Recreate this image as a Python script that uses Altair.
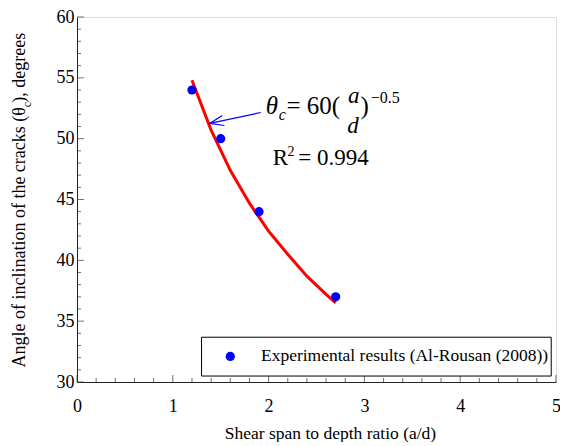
import altair as alt
import pandas as pd

# ---- data ----
a_d = [1.2, 1.5, 1.9, 2.7]
theta = [54, 50, 44, 37]
legend_label = "Experimental results (Al-Rousan (2008))"

fit_x = [1.2, 1.4, 1.6, 1.8, 2.0, 2.2, 2.4, 2.6, 2.7]
fit_y = [54.8, 50.7, 47.4, 44.7, 42.4, 40.5, 38.7, 37.2, 36.5]

x_major = [0, 1, 2, 3, 4, 5]
x_minor = [0.2, 0.4, 0.6, 0.8, 1.2, 1.4, 1.6, 1.8, 2.2, 2.4, 2.6, 2.8,
           3.2, 3.4, 3.6, 3.8, 4.2, 4.4, 4.6, 4.8]
y_major = [30, 35, 40, 45, 50, 55, 60]
y_minor = [31, 32, 33, 34, 36, 37, 38, 39, 41, 42, 43, 44, 46, 47, 48, 49,
           51, 52, 53, 54, 56, 57, 58, 59]

# annotation (equation) pieces, anchored in data units
eq_it_text = ["θ", "c", "a", "d"]
eq_it_x = [1.971, 2.105, 2.83, 2.82]
eq_it_y = [51.99, 51.50, 52.97, 50.44]
eq_it_size = [25, 16, 23, 23]

eq_txt = ["= 60(", ")", "−0.5", "R", "2", "= 0.994"]
eq_x = [2.187, 2.96, 3.065, 2.043, 2.197, 2.310]
eq_y = [51.99, 51.99, 52.97, 47.82, 48.56, 47.82]
eq_size = [25, 25, 16, 23, 14, 23]

arrow_x = [1.918, 1.386]
arrow_y = [52.15, 51.25]
head_x = [1.516, 1.386, 1.539]
head_y = [51.90, 51.25, 51.08]

# legend box (data units)
leg_box = {"x": 1.30, "x2": 4.95, "y": 33.68, "y2": 30.49}
leg_sym = {"x": 1.60, "y": 32.1}
leg_txt = {"x": 1.92, "y": 32.1}

# rotated y title pieces
yt_text = ["Angle of inclination of the cracks (θ", "c", "\u00a0), degrees"]
yt_x = [-0.545, -0.485, -0.545]
yt_y = [52.6, 52.8, 52.95]

FONT = "Liberation Serif"

xs = alt.Scale(domain=[0, 5], nice=False, zero=False)
ys = alt.Scale(domain=[30, 60], nice=False, zero=False)
xaxis = alt.Axis(title="Shear span to depth ratio (a/d)", values=x_major,
                 ticks=False, grid=False, labelPadding=15,
                 titleX=253, titleY=56, titleBaseline="alphabetic",
                 domainColor="#222222", labelFont=FONT, labelFontSize=18,
                 labelColor="black", titleFont=FONT, titleFontSize=17.5,
                 titleFontWeight="normal", titleColor="black", labelFlush=False)
yaxis = alt.Axis(title=None, values=y_major, ticks=False, grid=False,
                 labelPadding=3, domainColor="#222222", labelFont=FONT,
                 labelFontSize=18, labelColor="black")


def X(f="x"):
    return alt.X(f"{f}:Q", scale=xs, axis=xaxis)


def Y(f="y"):
    return alt.Y(f"{f}:Q", scale=ys, axis=yaxis)


pts = pd.DataFrame({"x": a_d, "y": theta})
fit = pd.DataFrame({"x": fit_x, "y": fit_y})

fit_layer = alt.Chart(fit).mark_line(color="#ff0000", strokeWidth=3).encode(x=X(), y=Y())
pt_layer = alt.Chart(pts).mark_circle(size=85, opacity=1, color="#0000ff").encode(x=X(), y=Y())

legend_layers = [
    alt.Chart(pd.DataFrame([leg_box])).mark_rect(fill="white", stroke="black", strokeWidth=1).encode(
        x=X(), x2="x2:Q", y=Y(), y2="y2:Q"),
    alt.Chart(pd.DataFrame([leg_sym])).mark_circle(size=85, opacity=1, color="#0000ff").encode(x=X(), y=Y()),
    alt.Chart(pd.DataFrame([{**leg_txt, "t": legend_label}])).mark_text(
        font=FONT, fontSize=17.5, align="left", baseline="middle", color="black").encode(
        x=X(), y=Y(), text="t:N"),
]

xt_major = pd.DataFrame({"x": x_major, "y": [30] * len(x_major)})
xt_minor = pd.DataFrame({"x": x_minor, "y": [30] * len(x_minor)})
yt_major = pd.DataFrame({"x": [0] * len(y_major), "y": y_major})
yt_minor = pd.DataFrame({"x": [0] * len(y_minor), "y": y_minor})

tick_col = "#333333"
ticks = [
    alt.Chart(xt_major).mark_tick(orient="vertical", size=7, thickness=1, yOffset=-3.5, color=tick_col).encode(x=X(), y=Y()),
    alt.Chart(xt_minor).mark_tick(orient="vertical", size=4, thickness=1, yOffset=-2, color=tick_col).encode(x=X(), y=Y()),
    alt.Chart(yt_major).mark_tick(orient="horizontal", size=7, thickness=1, xOffset=3.5, color=tick_col).encode(x=X(), y=Y()),
    alt.Chart(yt_minor).mark_tick(orient="horizontal", size=4, thickness=1, xOffset=2, color=tick_col).encode(x=X(), y=Y()),
]

eq_it = pd.DataFrame({"x": eq_it_x, "y": eq_it_y, "t": eq_it_text, "s": eq_it_size})
eq_n = pd.DataFrame({"x": eq_x, "y": eq_y, "t": eq_txt, "s": eq_size})
eq_layers = [
    alt.Chart(eq_it).mark_text(font=FONT, fontStyle="italic", align="left", baseline="alphabetic",
                               color="black").encode(x=X(), y=Y(), text="t:N",
                                                     size=alt.Size("s:Q", scale=None, legend=None)),
    alt.Chart(eq_n).mark_text(font=FONT, align="left", baseline="alphabetic",
                              color="black").encode(x=X(), y=Y(), text="t:N",
                                                    size=alt.Size("s:Q", scale=None, legend=None)),
]

arrow = pd.DataFrame({"x": arrow_x, "y": arrow_y})
head = pd.DataFrame({"x": head_x, "y": head_y, "o": [0, 1, 2]})
arrow_layers = [
    alt.Chart(arrow).mark_line(color="#0000ff", strokeWidth=1.2).encode(x=X(), y=Y()),
    alt.Chart(head).mark_line(color="#0000ff", strokeWidth=1.2).encode(x=X(), y=Y(), order="o:Q"),
]

ytd = pd.DataFrame({"x": yt_x, "y": yt_y, "t": yt_text})
ytitle = [
    alt.Chart(ytd.iloc[[0]]).mark_text(font=FONT, fontSize=18, angle=270, align="right",
                                        baseline="alphabetic", color="black").encode(x=X(), y=Y(), text="t:N"),
    alt.Chart(ytd.iloc[[1]]).mark_text(font=FONT, fontSize=12, angle=270, align="center",
                                        baseline="alphabetic", color="black").encode(x=X(), y=Y(), text="t:N"),
    alt.Chart(ytd.iloc[[2]]).mark_text(font=FONT, fontSize=18, angle=270, align="left",
                                        baseline="alphabetic", color="black").encode(x=X(), y=Y(), text="t:N"),
]

chart = alt.layer(*ticks, fit_layer, pt_layer, *legend_layers, *arrow_layers, *eq_layers, *ytitle).properties(
    width=479, height=365,
    autosize=alt.AutoSizeParams(type="none"),
    padding={"left": 69, "top": 9, "right": 4, "bottom": 60},
).configure_view(stroke="#808080", strokeWidth=1).configure(background="white")

chart.save("out.html", embed_options={"renderer": "svg", "actions": False})
